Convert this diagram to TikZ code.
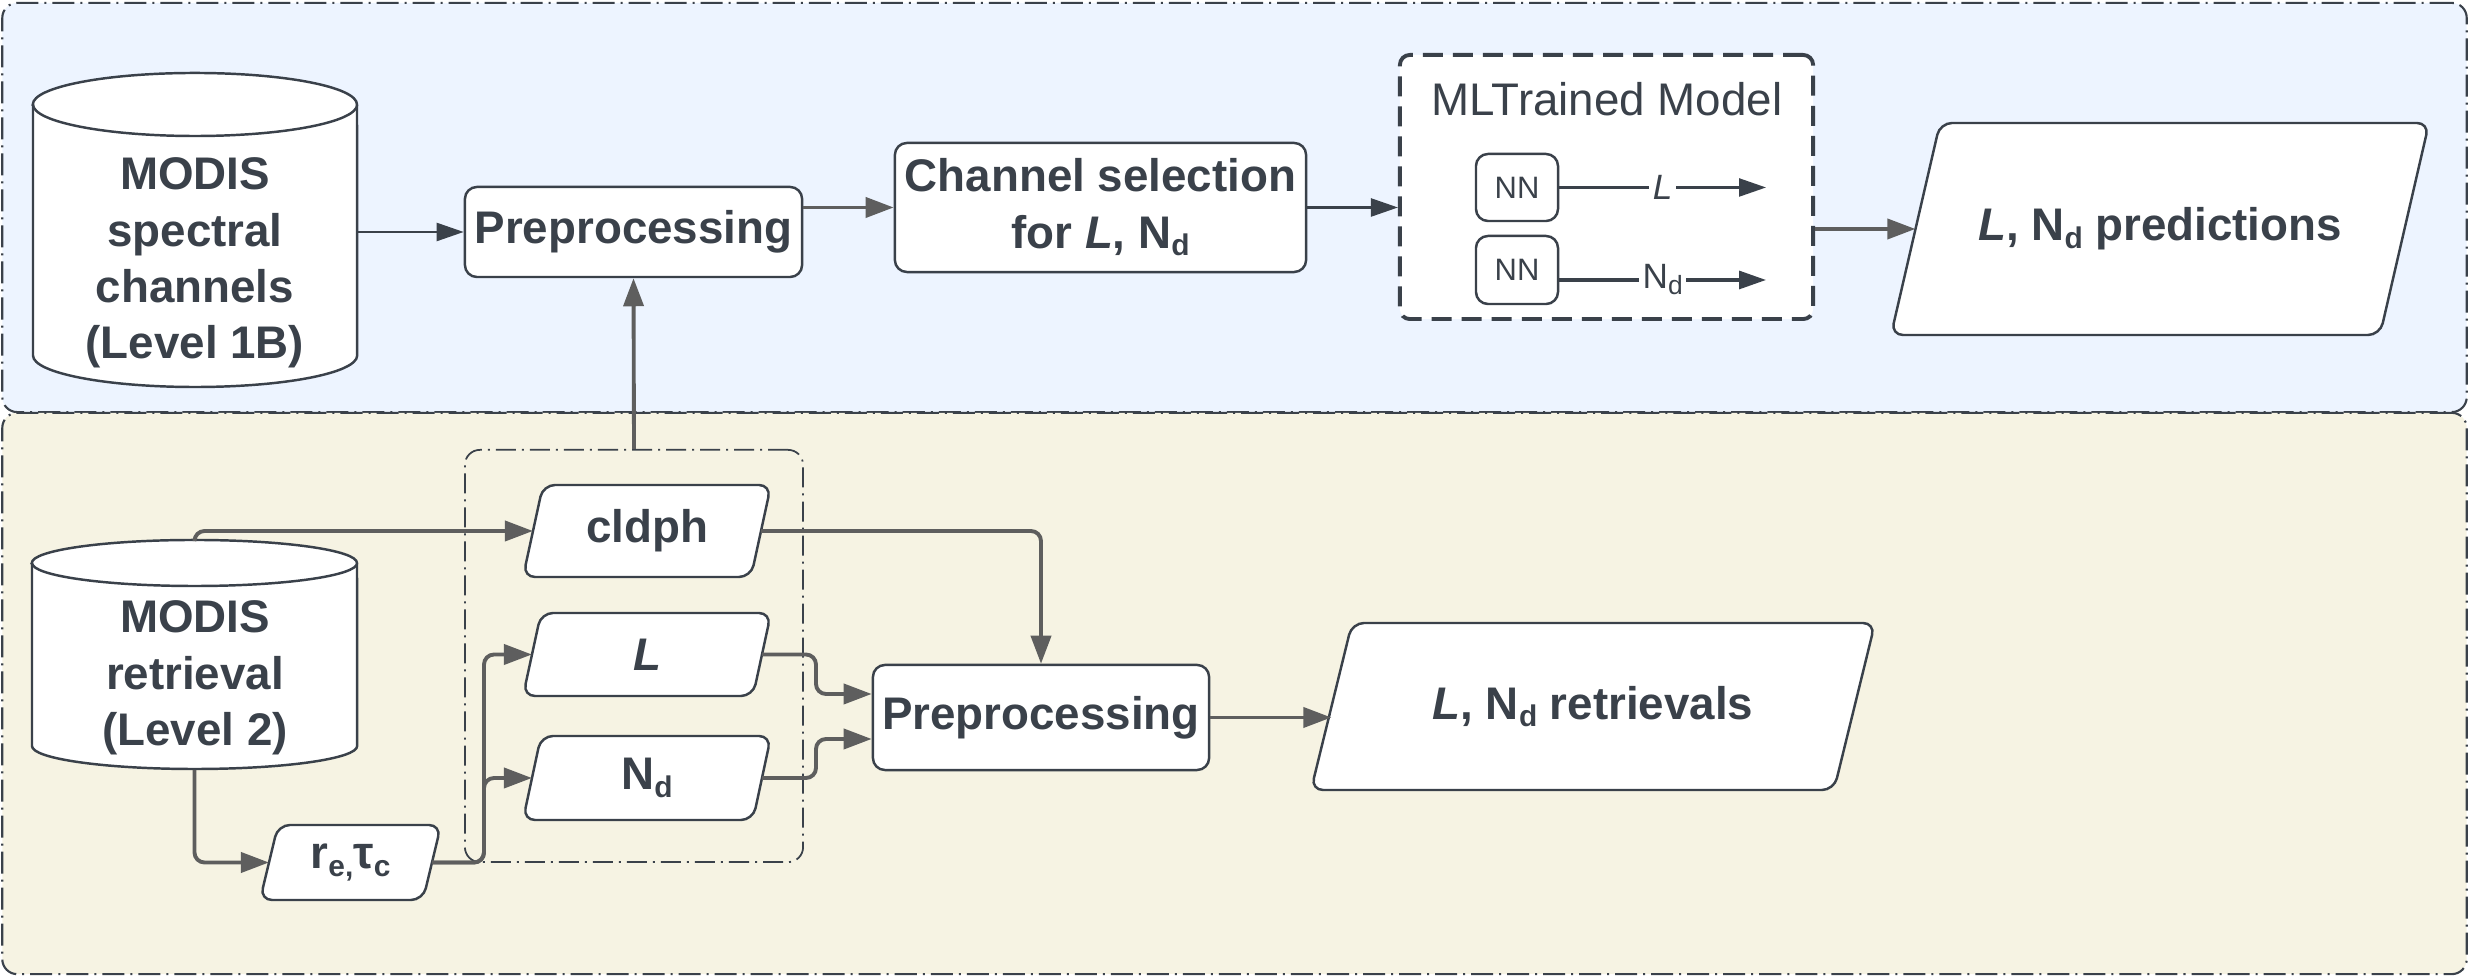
\documentclass[tikz,border=0pt]{standalone}
\usepackage{fontspec}
\setmainfont{Liberation Sans}
\usetikzlibrary{arrows.meta,calc}
\definecolor{txt}{HTML}{3A414A}
\definecolor{conn}{HTML}{5E5E5E}
\definecolor{bgblue}{HTML}{EDF4FF}
\definecolor{bgcream}{HTML}{F6F3E3}
\newcommand{\mysub}[2][8.5pt]{\raisebox{-0.17em}{\fontsize{#1}{#1}\selectfont #2}}
\newcommand{\mypara}[7]{%
  \pgfmathsetmacro{\myPW}{(#4-#2-#6)/100}%
  \pgfmathsetmacro{\myPH}{(#5-#3)/100}%
  \pgfmathsetmacro{\myPX}{(#2+#4)/2}%
  \pgfmathsetmacro{\myPY}{(#3+#5)/2}%
  \filldraw[parashape] ({#2+#6},#3) -- (#4,#3) -- ({#4-#6},#5) -- (#2,#5) -- cycle;
  \node[paratext, minimum width=\myPW cm, minimum height=\myPH cm] (#1) at (\myPX,\myPY) {#7};%
}
\begin{document}
\begin{tikzpicture}[x=0.01cm,y=-0.01cm,
  bigfont/.style={font=\bfseries\fontsize{13pt}{16pt}\selectfont},
  panel/.style={draw=txt, line width=0.6pt, dash pattern=on 0.22cm off 0.06cm on 0.02cm off 0.06cm, rounded corners=0.15cm, inner sep=0pt},
  innerpanel/.style={draw=txt, line width=0.5pt, dash pattern=on 0.2cm off 0.06cm on 0.02cm off 0.06cm, rounded corners=0.15cm, inner sep=0pt},
  box/.style={draw=txt, fill=white, line width=0.7pt, rounded corners=0.12cm, text=txt, bigfont, align=center, inner sep=0pt},
  lbl/.style={text=txt, bigfont, align=center, inner sep=0pt},
  parashape/.style={draw=txt, fill=white, line width=0.7pt, rounded corners=0.12cm},
  paratext/.style={lbl, outer sep=0pt},
  cylshape/.style={draw=txt, fill=white, line width=0.7pt},
  mlbox/.style={draw=txt, fill=white, line width=1.1pt, dash pattern=on 0.2cm off 0.1cm, rounded corners=0.1cm, inner sep=0pt},
  nnbox/.style={draw=txt, fill=white, line width=0.7pt, rounded corners=0.12cm, text=txt, font=\fontsize{8.8pt}{10pt}\selectfont, inner sep=0pt},
  gconn/.style={draw=conn, line width=1.1pt, rounded corners=0.1cm, -{Triangle[length=0.28cm,width=0.2cm]}},
  dconn/.style={draw=txt, line width=0.7pt, -{Triangle[length=0.27cm,width=0.18cm]}},
  onlab/.style={fill=white, text=txt, font=\fontsize{10pt}{11pt}\selectfont, inner sep=1pt}
]
\useasboundingbox (0,0) rectangle (2469,977);
% panels
\node[panel, fill=bgblue, minimum width=24.63cm, minimum height=4.09cm] (toppanel) at (1234.5,207.5) {};
\node[panel, fill=bgcream, minimum width=24.63cm, minimum height=5.61cm] (botpanel) at (1234.5,693.5) {};
\node[innerpanel, minimum width=3.38cm, minimum height=4.12cm] (inner) at (634,656) {};
% ML box
\node[mlbox, minimum width=4.13cm, minimum height=2.64cm] (ml) at (1606.5,187) {};
\node[text=txt, font=\fontsize{13pt}{16pt}\selectfont, inner sep=0pt] (mltitle) at (1607,99) {MLTrained Model};
\node[nnbox, minimum width=0.82cm, minimum height=0.67cm] (nn1) at (1517,187.5) {NN};
\node[nnbox, minimum width=0.82cm, minimum height=0.68cm] (nn2) at (1517,270) {NN};
\coordinate (e1) at (1766,187.5);
\coordinate (e2) at (1766,280);
% cylinder 1
\filldraw[cylshape] (33,104.5) -- (33,355.5) arc[start angle=180, end angle=360, x radius=1.62cm, y radius=0.315cm] -- (357,104.5) arc[start angle=0, end angle=180, x radius=1.62cm, y radius=0.315cm] -- cycle;
\draw[cylshape, fill=none] (33,104.5) arc[start angle=180, end angle=360, x radius=1.62cm, y radius=0.315cm];
\node[minimum width=3.24cm, minimum height=3.14cm, inner sep=0pt] (cylA) at (195,230) {};
\node[lbl] (cylAtext) at (195,263) {MODIS\\spectral\\channels\\(Level 1B)};
% cylinder 2
\filldraw[cylshape] (32,563) -- (32,746) arc[start angle=180, end angle=360, x radius=1.625cm, y radius=0.23cm] -- (357,563) arc[start angle=0, end angle=180, x radius=1.625cm, y radius=0.23cm] -- cycle;
\draw[cylshape, fill=none] (32,563) arc[start angle=180, end angle=360, x radius=1.625cm, y radius=0.23cm];
\node[minimum width=3.25cm, minimum height=2.29cm, inner sep=0pt] (cylB) at (194.5,654.5) {};
\node[lbl] (cylBtext) at (195,678) {MODIS\\retrieval\\(Level 2)};
% boxes
\node[box, minimum width=3.37cm, minimum height=0.90cm] (pre1) at (633.5,232) {Preprocessing};
\node[box, minimum width=4.11cm, minimum height=1.29cm] (chan) at (1100.5,207.5) {Channel selection\\for \textit{L}, N\mysub{d}};
\node[box, minimum width=3.36cm, minimum height=1.05cm] (pre2) at (1041,717.5) {Preprocessing};
% parallelograms
\mypara{pred}{1891}{123}{2429}{335}{49}{\textit{L}, N\mysub{d} predictions}
\mypara{cldph}{523}{485}{771}{577}{20}{cldph}
\mypara{L}{523}{613}{771}{696}{18}{\textit{L}}
\mypara{Nd}{523}{736}{771}{820}{18}{N\mysub{d}}
\mypara{re}{260}{825}{441}{900}{18}{r\mysub{e,}τ\mysub{c}}
\mypara{ret}{1311}{623}{1875}{790}{41}{\textit{L}, N\mysub{d} retrievals}
% helper coordinates
\coordinate (jx) at (484,0);
\coordinate (jx2) at (816,0);
\coordinate (p2a) at ($(pre2.west)+(0,-23.5)$);
\coordinate (p2b) at ($(pre2.west)+(0,21.5)$);
% connectors top
\draw[dconn] (cylA.east |- pre1.west) -- (pre1.west);
\draw[gconn] (pre1.east |- chan.west) -- (chan.west);
\draw[dconn] (chan.east) -- (chan.east -| ml.west);
\draw[gconn] (ml.east |- pred.west) -- (pred.west);
\draw[gconn] (inner.north) -- (pre1.south);
\draw[dconn] (nn1.east) -- node[onlab]{\textit{L}} (e1);
\draw[dconn, line width=0.9pt] (nn2.east |- e2) -- node[onlab]{N\mysub[7.5pt]{d}} (e2);
% connectors bottom
\draw[gconn] (cylB.north) |- (cldph.west);
\draw[gconn] (cylB.south) |- (re.west);
\draw[gconn] (re.east) -- (re.east -| jx) |- (L.west);
\draw[gconn] (re.east) -- (re.east -| jx) |- (Nd.west);
\draw[gconn] (cldph.east) -| (pre2.north);
\draw[gconn] (L.east) -- (L.east -| jx2) |- (p2a);
\draw[gconn] (Nd.east) -- (Nd.east -| jx2) |- (p2b);
\draw[gconn] (pre2.east) -- (pre2.east -| ret.west);
\end{tikzpicture}
\end{document}
